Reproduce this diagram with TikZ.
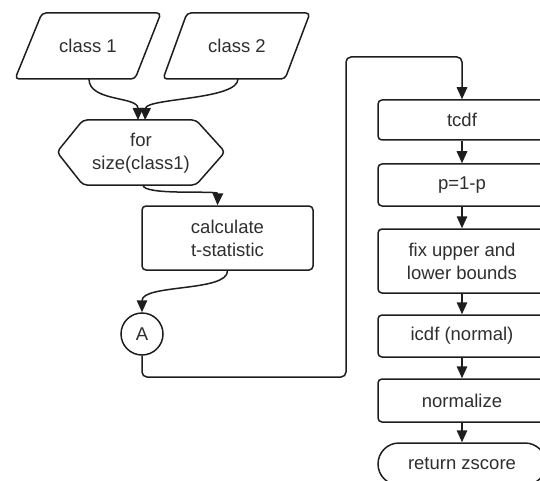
\documentclass[tikz,border=0pt]{standalone}
\usepackage{fontspec}
\setmainfont{Liberation Sans}
\usetikzlibrary{arrows.meta}
\definecolor{ink}{HTML}{1E1E1E}
\definecolor{txt}{HTML}{2E2E2E}
\tikzset{
  ln/.style={draw=ink, line width=1.5pt},
  arr/.style={ln, -{Triangle[length=12pt,width=10.5pt]}},
  shapetxt/.style={text=txt, font=\fontsize{18.5}{23}\selectfont, align=center, inner sep=0pt},
  procbox/.style={ln, rectangle, rounded corners=4pt, minimum width=168pt, shapetxt},
}
\begin{document}
\begin{tikzpicture}[x=1pt,y=-1pt]
\useasboundingbox (0,0) rectangle (540,481);
\clip (0,0) rectangle (540,481);
% parallelograms
\draw[ln, rounded corners=4pt] (42,13) -- (161,13) -- (135,79) -- (15,79) -- cycle;
\node[shapetxt] (c1) at (88,46) {class 1};
\coordinate (c1b) at (89,79);
\draw[ln, rounded corners=4pt] (187,13) -- (310,13) -- (285,79) -- (163,79) -- cycle;
\node[shapetxt] (c2) at (237,46) {class 2};
\coordinate (c2b) at (238,79);
% hexagon
\draw[ln, rounded corners=4pt] (57,152) -- (83,120) -- (196,120) -- (225,152) -- (196,185) -- (83,185) -- cycle;
\node[shapetxt] (loop) at (141,153) {for\\size(class1)};
\coordinate (hext) at (141,120);
\coordinate (hexb) at (143,185);
% calculate
\node[procbox, minimum width=171pt, minimum height=64pt] (calc) at (227.5,238) {calculate\\t-statistic};
% connector
\node[ln, circle, minimum size=42pt, shapetxt] (A) at (142,334) {A};
% right column
\node[procbox, minimum height=40pt] (tcdf) at (462,120) {tcdf};
\node[procbox, minimum height=42pt] (pp) at (462,185) {p=1-p};
\node[procbox, minimum height=64pt] (fix) at (462,261) {fix upper and\\lower bounds};
\node[procbox, minimum height=42pt] (icdf) at (462,336) {icdf (normal)};
\node[procbox, minimum height=43pt] (norm) at (462,400.5) {normalize};
\node[procbox, minimum height=42pt, rounded corners=21pt] (ret) at (462,464) {return zscore};
% connectors
\draw[arr] (c1b) .. controls (89,102) and (138,96) .. ([xshift=-3pt]hext);
\draw[arr] (c2b) .. controls (238,100) and (146,98) .. ([xshift=4pt]hext);
\draw[arr] (hexb) .. controls (143,196) and (218,190) .. ([xshift=-10pt]calc.north);
\draw[arr] (calc.south) .. controls (228,292) and (142,284) .. (A.north);
\draw[arr, rounded corners=5pt] (A.south) -- (142,377) -- (346,377) -- (346,57) -- (462,57) -- (tcdf.north);
\draw[arr] (tcdf) -- (pp);
\draw[arr] (pp) -- (fix);
\draw[arr] (fix) -- (icdf);
\draw[arr] (icdf) -- (norm);
\draw[arr] (norm) -- (ret);
\end{tikzpicture}
\end{document}
